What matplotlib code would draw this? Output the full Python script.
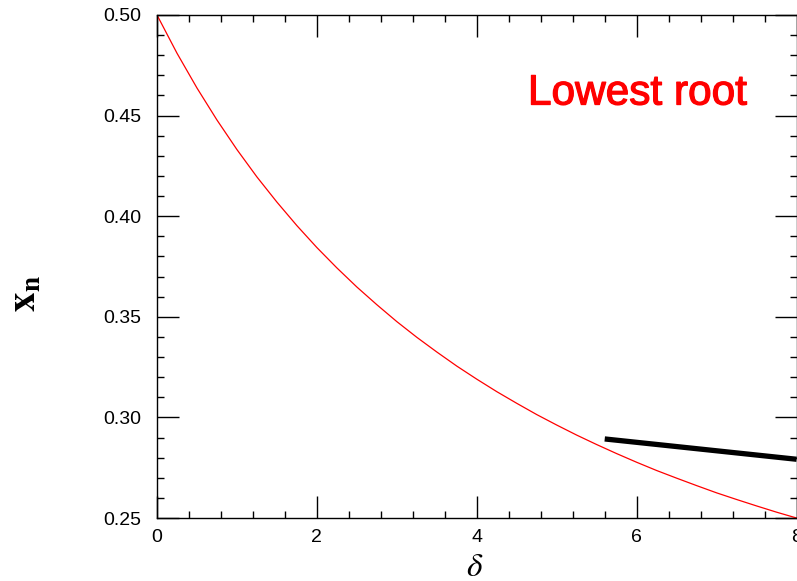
import matplotlib
matplotlib.use('Agg')
import matplotlib.pyplot as plt
import matplotlib.patheffects as pe
from matplotlib.ticker import MultipleLocator

# lowest root x_n as a function of delta
delta = [0.0, 0.25, 0.5, 0.75, 1.0, 1.25, 1.5, 1.75, 2.0, 2.25, 2.5, 2.75,
         3.0, 3.25, 3.5, 3.75, 4.0, 4.25, 4.5, 4.75, 5.0, 5.25, 5.5, 5.75,
         6.0, 6.25, 6.5, 6.75, 7.0, 7.25, 7.5, 7.75, 8.0]
x_low = [0.5000, 0.4810, 0.4637, 0.4478, 0.4331, 0.4195, 0.4070, 0.3953,
         0.3844, 0.3743, 0.3648, 0.3560, 0.3476, 0.3398, 0.3325, 0.3255,
         0.3190, 0.3128, 0.3070, 0.3014, 0.2962, 0.2912, 0.2865, 0.2820,
         0.2777, 0.2736, 0.2698, 0.2661, 0.2625, 0.2592, 0.2560, 0.2529,
         0.2500]

# straight black segment
delta_seg = [5.6, 8.0]
x_seg = [0.2893, 0.2792]

plt.rcParams['font.family'] = ['Liberation Sans', 'DejaVu Sans']
plt.rcParams['mathtext.fontset'] = 'stix'

fig = plt.figure(figsize=(7.97, 5.81), dpi=100)
ax = fig.add_axes([0.197, 0.1084, 0.8025, 0.8658])

ax.plot(delta, x_low, color='red', lw=0.9)
ax.plot(delta_seg, x_seg, color='black', lw=3.8, solid_capstyle='butt')

ax.set_xlim(0, 8)
ax.set_ylim(0.25, 0.50)
ax.xaxis.set_major_locator(MultipleLocator(2))
ax.xaxis.set_minor_locator(MultipleLocator(0.4))
ax.yaxis.set_major_locator(MultipleLocator(0.05))
ax.yaxis.set_minor_locator(MultipleLocator(0.01))
ax.yaxis.set_major_formatter(plt.FormatStrFormatter('%.2f'))

ax.tick_params(which='both', direction='in', top=True, right=True, width=1.0)
ax.tick_params(which='major', length=15.5, labelsize=14)
ax.tick_params(axis='x', which='major', pad=8)
ax.tick_params(axis='y', which='major', pad=11)
ax.tick_params(which='minor', length=5.3)
for s in ax.spines.values():
    s.set_linewidth(1.0)

# axis labels placed by hand to match the reference
ax.text(0.497, -0.099, r'$\delta$', fontsize=24, ha='center', va='center',
        transform=ax.transAxes)
ax.text(-0.206, 0.447, r'$\mathbf{x_n}$', fontsize=28, rotation=90,
        ha='center', va='center', transform=ax.transAxes)

ax.text(4.64, 0.4555, 'Lowest root', color='red', fontsize=30.5,
        ha='left', va='baseline',
        path_effects=[pe.withStroke(linewidth=0.9, foreground='red')])

fig.savefig('out.png', dpi=100)
